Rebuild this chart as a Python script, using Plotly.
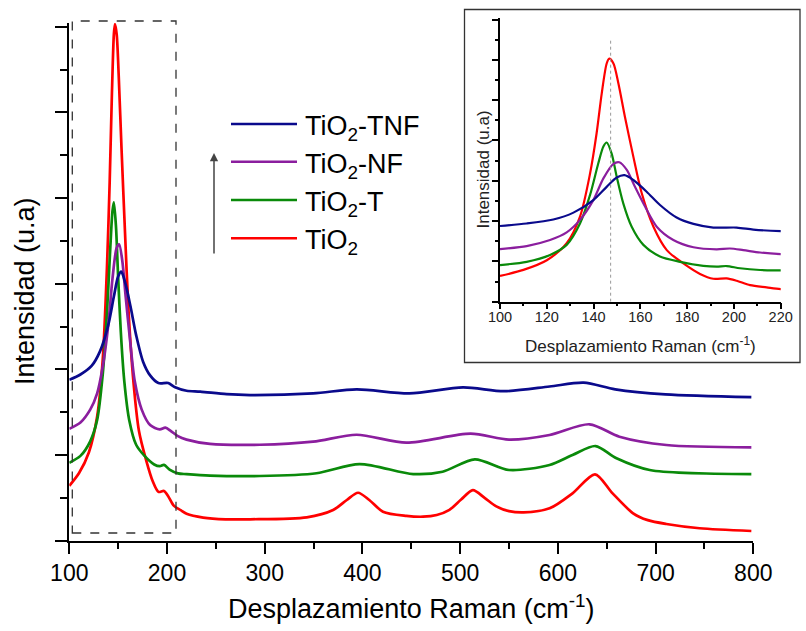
import plotly.graph_objects as go

W, H = 806, 631

# ---------------- data (Raman shift, intensity a.u.) ----------------
red_x = [100, 110, 120, 128.5, 134.2, 138.5, 141.3, 143.5, 145.6, 146.7, 148.5, 150.6, 153.4, 157, 160.6,
         165.6, 171.3, 178.4, 185.5, 191.2, 196.9, 201.2, 206.9, 214, 220, 237, 260, 285, 343, 370, 384,
         395.5, 407, 421, 445, 462, 476, 489, 501, 513, 525, 537, 550, 565, 591.5, 615, 638, 656, 677,
         692, 711, 745, 798]
red_y = [0.64, 0.79, 1.03, 1.45, 2.11, 3.18, 4.18, 5.17, 5.91, 6.03, 5.91, 5.42, 4.59, 3.60, 2.69,
         1.86, 1.28, 0.95, 0.69, 0.57, 0.58, 0.52, 0.41, 0.356, 0.314, 0.27, 0.25, 0.25, 0.273, 0.358, 0.475,
         0.56, 0.475, 0.339, 0.29, 0.28, 0.30, 0.36, 0.48, 0.59, 0.50, 0.40, 0.345, 0.33, 0.378, 0.553, 0.775,
         0.553, 0.32, 0.24, 0.195, 0.145, 0.113]

green_x = [100, 111.4, 121.4, 128.5, 134.2, 138.5, 142, 144.2, 145.6, 147.7, 149.9, 152.7, 156.3, 161.3,
           168.4, 177, 186.9, 192.6, 196.9, 202.6, 211.2, 220, 244, 295, 353, 397, 452, 482, 515, 550,
           591.5, 615, 638.5, 660, 694, 798]
green_y = [0.91, 0.99, 1.16, 1.41, 1.94, 2.65, 3.43, 3.85, 3.95, 3.68, 3.10, 2.44, 1.86, 1.41,
           1.12, 0.99, 0.89, 0.87, 0.885, 0.83, 0.786, 0.777, 0.76, 0.755, 0.787, 0.895, 0.778, 0.805, 0.95,
           0.825, 0.884, 1.0, 1.105, 0.962, 0.825, 0.778]

purple_x = [100, 111.4, 121.4, 128.5, 134.2, 139.9, 144.2, 148.5, 151, 154.2, 157.7, 162, 167, 174.1,
            182.7, 192.6, 198.3, 204, 211.2, 220, 244, 295, 349.5, 394, 445, 510.7, 550, 591.5, 632.4,
            663, 711, 798]
purple_y = [1.307, 1.38, 1.53, 1.72, 2.03, 2.52, 3.06, 3.42, 3.46, 3.27, 2.85, 2.36, 1.86, 1.53,
            1.35, 1.30, 1.32, 1.28, 1.22, 1.18, 1.13, 1.12, 1.156, 1.237, 1.144, 1.249, 1.18, 1.234, 1.359,
            1.214, 1.117, 1.09]

blue_x = [100, 111.4, 122.8, 131.4, 139.9, 145.6, 149.9, 153.2, 157, 162.7, 168.4, 175.5, 182.7, 191.2,
          201.2, 208.3, 220, 234, 261, 285, 349.5, 394, 448, 503, 545, 591.5, 626.4, 658.7, 710, 798]
blue_y = [1.878, 1.94, 2.04, 2.21, 2.52, 2.85, 3.08, 3.14, 3.02, 2.73, 2.40, 2.09, 1.93, 1.84,
          1.84, 1.79, 1.75, 1.74, 1.71, 1.70, 1.72, 1.767, 1.72, 1.79, 1.745, 1.80, 1.845, 1.767, 1.709, 1.677]

names = ["TiO<sub>2</sub>", "TiO<sub>2</sub>-T", "TiO<sub>2</sub>-NF", "TiO<sub>2</sub>-TNF"]
xs_all = [red_x, green_x, purple_x, blue_x]
ys_all = [red_y, green_y, purple_y, blue_y]
colors = ["#FF0000", "#0A8A0A", "#8B1E9E", "#0A0A8C"]

main_xticks = [100, 200, 300, 400, 500, 600, 700, 800]
inset_xticks = [100, 120, 140, 160, 180, 200, 220]
inset_marker_x = 147.3

FONT = "Arial, Liberation Sans, sans-serif"


def fx(px):
    return px / W


def fy(py):
    return 1 - py / H


fig = go.Figure()
for name, xs, ys, col in zip(names, xs_all, ys_all, colors):
    fig.add_trace(go.Scatter(x=xs, y=ys, mode="lines", name=name, showlegend=False,
                             line=dict(color=col, width=2.7, shape="spline", smoothing=0.8),
                             xaxis="x", yaxis="y", hoverinfo="skip"))
for name, xs, ys, col in zip(names, xs_all, ys_all, colors):
    fig.add_trace(go.Scatter(x=xs, y=ys, mode="lines", name=name, showlegend=False,
                             line=dict(color=col, width=2.2, shape="spline", smoothing=0.8),
                             xaxis="x2", yaxis="y2", hoverinfo="skip"))

axis_common = dict(showgrid=False, zeroline=False, showline=True, linecolor="black",
                   tickcolor="black", ticks="outside", automargin=False)

fig.update_layout(
    template="none",
    width=W, height=H,
    margin=dict(l=0, r=0, t=0, b=0, autoexpand=False),
    paper_bgcolor="white", plot_bgcolor="white",
    font=dict(family=FONT, color="black"),
    xaxis=dict(**axis_common, domain=[fx(69.3), fx(753.3)], range=[100, 800],
               tickvals=main_xticks, ticklen=11, tickwidth=2, linewidth=2,
               tickfont=dict(size=23, family=FONT),
               minor=dict(ticks="outside", ticklen=6, tickwidth=2, dtick=50, tick0=100, tickcolor="black",
                          showgrid=False),
               title=dict(text="Desplazamiento Raman (cm<sup>-1</sup>)", font=dict(size=27, family=FONT),
                          standoff=14),
               anchor="y"),
    yaxis=dict(**axis_common, domain=[fy(540.7), fy(23)], range=[0, 6.043], dtick=1, tick0=0,
               ticklen=12, tickwidth=2, linewidth=2, showticklabels=False,
               minor=dict(ticks="outside", ticklen=7, tickwidth=2, dtick=0.5, tick0=0, tickcolor="black",
                          showgrid=False),
               anchor="x"),
    xaxis2=dict(**axis_common, domain=[fx(500), fx(780.7)], range=[100, 220],
                tickvals=inset_xticks, ticklen=6, tickwidth=1.5, linewidth=1.5,
                ticklabelstandoff=-5,
                tickfont=dict(size=14.5, family=FONT, color="#222"),
                minor=dict(ticks="outside", ticklen=3, tickwidth=1.5, dtick=10, tick0=100, tickcolor="black",
                           showgrid=False),
                title=dict(text="Desplazamiento Raman (cm<sup>-1</sup>)", font=dict(size=17, family=FONT, color="#222"),
                           standoff=16),
                anchor="y2"),
    yaxis2=dict(**axis_common, domain=[fy(301.7), fy(18.3)], range=[0, 7.032], dtick=1, tick0=0,
                ticklen=6, tickwidth=1.5, linewidth=1.5, showticklabels=False,
                minor=dict(ticks="outside", ticklen=3, tickwidth=1.5, dtick=0.5, tick0=0, tickcolor="black",
                           showgrid=False),
                anchor="x2"),
)

shapes = [
    # dashed zoom box on main plot
    dict(type="rect", xref="paper", yref="paper", x0=fx(72.3), x1=fx(176), y0=fy(533), y1=fy(21),
         line=dict(color="#333", width=1.3, dash="dash")),
    # inset frame
    dict(type="rect", xref="paper", yref="paper", x0=fx(464.5), x1=fx(800), y0=fy(362.5), y1=fy(9.5),
         line=dict(color="#333", width=1.3), layer="below"),
    # dotted vertical line in inset
    dict(type="line", xref="x2", yref="y2", x0=inset_marker_x, x1=inset_marker_x, y0=0, y1=6.52,
         line=dict(color="#999", width=1, dash="dot")),
]

# manual legend
leg_y = [238.3, 200, 161.7, 124]
annotations = []
for name, col, ly in zip(names, colors, leg_y):
    shapes.append(dict(type="line", xref="paper", yref="paper", x0=fx(231), x1=fx(297), y0=fy(ly), y1=fy(ly),
                       line=dict(color=col, width=2.5)))
    annotations.append(dict(xref="paper", yref="paper", x=fx(303), y=fy(ly + 4), xanchor="left",
                            yanchor="middle", text=name, showarrow=False,
                            font=dict(size=27, family=FONT, color="black")))

# arrow
annotations.append(dict(xref="paper", yref="paper", x=fx(214), y=fy(153), ax=0, ay=102, text="",
                        showarrow=True, arrowhead=2, arrowsize=1.1, arrowwidth=1.5, arrowcolor="#444"))
# main y title
annotations.append(dict(xref="paper", yref="paper", x=fx(25), y=fy(291), text="Intensidad (u.a)",
                        textangle=-90, showarrow=False, xanchor="center", yanchor="middle",
                        font=dict(size=27, family=FONT, color="black")))
# inset y title
annotations.append(dict(xref="paper", yref="paper", x=fx(482.5), y=fy(170), text="Intensidad (u.a)",
                        textangle=-90, showarrow=False, xanchor="center", yanchor="middle",
                        font=dict(size=17, family=FONT, color="#222")))

fig.update_layout(shapes=shapes, annotations=annotations)

fig.write_html("out.html")
